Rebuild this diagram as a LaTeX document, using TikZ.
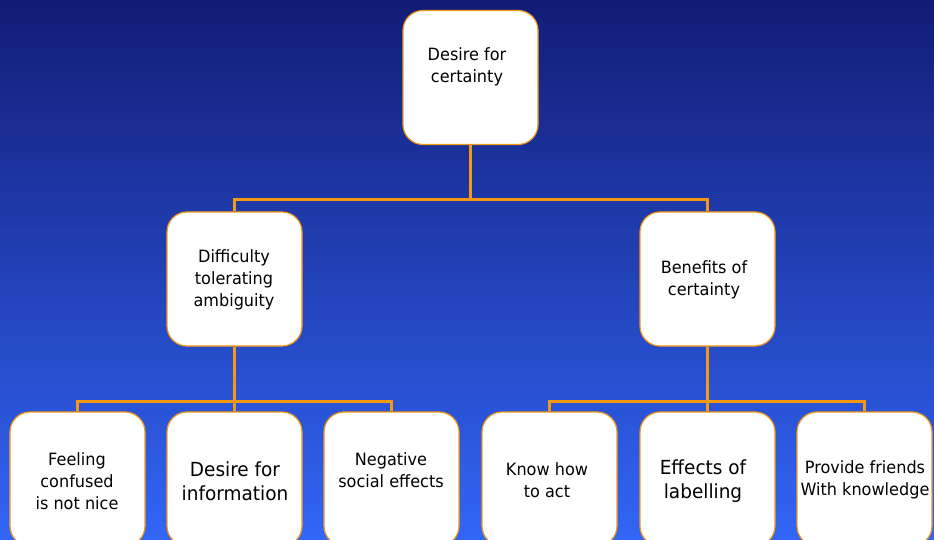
\documentclass[tikz,border=0pt]{standalone}
\usepackage{fontspec}
\setmainfont[FakeStretch=0.95]{DejaVu Sans}
\definecolor{bgtop}{RGB}{18,28,118}
\definecolor{bgbot}{RGB}{50,102,246}
\definecolor{lineorange}{RGB}{245,152,20}
\begin{document}
\begin{tikzpicture}[x=1bp,y=-1bp,
  box/.style={draw=lineorange, line width=1.2bp, fill=white, rounded corners=20bp,
    minimum width=135bp, minimum height=134bp, inner sep=0pt},
  conn/.style={draw=lineorange, line width=3bp},
  small/.style={font=\fontsize{17}{22}\selectfont, align=center, text=black, inner sep=0pt},
  big/.style={font=\fontsize{19.5}{24}\selectfont, align=center, text=black, inner sep=0pt}]
\useasboundingbox (0,0) rectangle (934,540);
\clip (0,0) rectangle (934,540);
\shade[top color=bgtop, bottom color=bgbot] (0,0) rectangle (934,540);

% boxes
\node[box] (top) at (470.5,77.5) {};
\node[box] (ml) at (234.5,279) {};
\node[box] (mr) at (707.5,279) {};
\node[box] (b1) at (77.5,479) {};
\node[box] (b2) at (234.5,479) {};
\node[box] (b3) at (391.5,479) {};
\node[box] (b4) at (549.5,479) {};
\node[box] (b5) at (707.5,479) {};
\node[box] (b6) at (864.5,479) {};

% connectors
\coordinate (j0) at (470.5,200);
\coordinate (jl) at (234.5,401);
\coordinate (jr) at (707.5,401);
\draw[conn] (top.south) -- (j0);
\draw[conn] (ml.north) |- (j0) -| (mr.north);
\draw[conn] (ml.south) -- (jl);
\draw[conn] (b1.north) |- (jl) -| (b3.north);
\draw[conn] (jl) -- (b2.north);
\draw[conn] (mr.south) -- (jr);
\draw[conn] (b4.north) |- (jr) -| (b6.north);
\draw[conn] (jr) -- (b5.north);

% texts
\node[small] (t0) at (467,67) {Desire for\\certainty};
\node[small] (t1) at (234,280) {Difficulty\\tolerating\\ambiguity};
\node[small] (t2) at (704,279.5) {Benefits of\\certainty};
\node[small] (t3) at (77,481) {Feeling\\confused\\is not nice};
\node[big] (t4) at (235,481) {Desire for\\information};
\node[small] (t5) at (391,470) {Negative\\social effects};
\node[small] (t6) at (547,480) {Know how\\to act};
\node[big] (t7) at (703,481) {Effects of\\labelling};
\node[small] (t8) at (865,480) {Provide friends\\With knowledge};
\end{tikzpicture}
\end{document}
